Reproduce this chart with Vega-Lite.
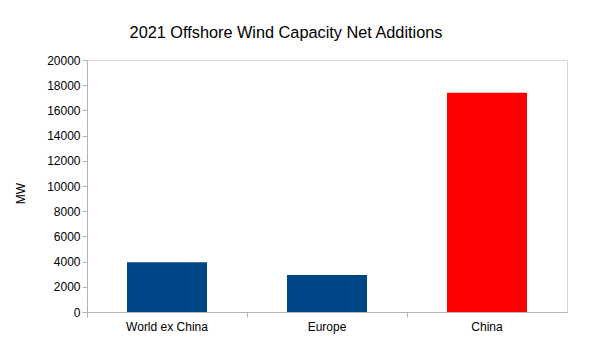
{
  "$schema": "https://vega.github.io/schema/vega-lite/v6.json",
  "width": 480,
  "height": 252,
  "autosize": {"type": "none"},
  "padding": {"left": 87, "top": 60, "right": 26, "bottom": 37},
  "background": "white",
  "title": {
    "text": "2021 Offshore Wind Capacity Net Additions",
    "font": "Liberation Sans",
    "fontSize": 16.3,
    "fontWeight": "normal",
    "color": "black",
    "anchor": "middle",
    "frame": "group",
    "dx": -41,
    "offset": 13
  },
  "config": {
    "view": {"stroke": "#d9d9d9", "strokeWidth": 1},
    "axis": {
      "labelFont": "Liberation Sans",
      "labelFontSize": 12,
      "labelColor": "black",
      "titleFont": "Liberation Sans",
      "titleFontSize": 12,
      "titleFontWeight": "normal",
      "titleColor": "black",
      "domainColor": "#b3b3b3",
      "tickColor": "#b3b3b3",
      "grid": false
    }
  },
  "data": {
    "values": [
      {"region": "World ex China", "mw": 3940},
      {"region": "Europe", "mw": 2930},
      {"region": "China", "mw": 17400}
    ]
  },
  "mark": {"type": "bar"},
  "encoding": {
    "x": {
      "field": "region",
      "type": "nominal",
      "sort": null,
      "scale": {"paddingInner": 0.5, "paddingOuter": 0.25},
      "axis": {
        "title": null,
        "labelAngle": 0,
        "bandPosition": -0.5,
        "labelOffset": 0,
        "tickSize": 5,
        "labelPadding": 4
      }
    },
    "y": {
      "field": "mw",
      "type": "quantitative",
      "scale": {"domain": [0, 20000], "nice": false},
      "axis": {
        "title": "MW",
        "values": [0, 2000, 4000, 6000, 8000, 10000, 12000, 14000, 16000, 18000, 20000],
        "format": "d",
        "tickSize": 5,
        "labelPadding": 2,
        "titleX": -67,
        "titleY": 133,
        "titleAngle": -90,
        "titleBaseline": "middle"
      }
    },
    "color": {
      "field": "region",
      "type": "nominal",
      "scale": {"domain": ["World ex China", "Europe", "China"], "range": ["#004586", "#004586", "#ff0000"]},
      "legend": null
    }
  }
}
